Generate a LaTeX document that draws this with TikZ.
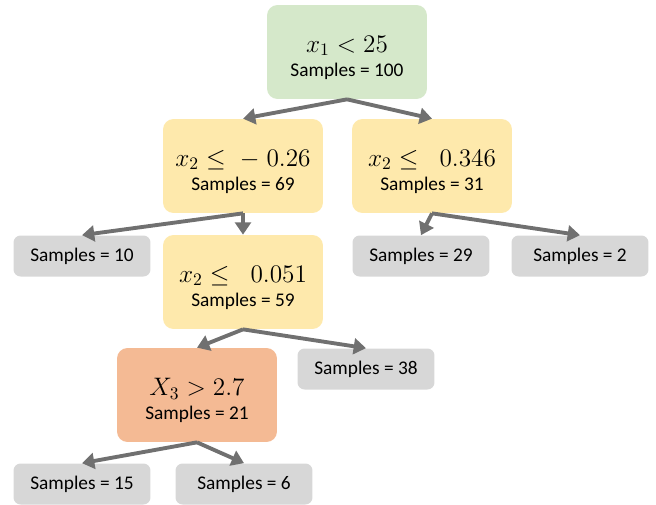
\documentclass[tikz,border=0pt]{standalone}
\usepackage{fontspec}
\setmainfont{Carlito}
\usetikzlibrary{arrows.meta}

\definecolor{splitgreen}{HTML}{D5E8CA}
\definecolor{splityellow}{HTML}{FEE9AC}
\definecolor{splitorange}{HTML}{F4BA94}
\definecolor{leafgray}{HTML}{D7D7D7}
\definecolor{edgegray}{HTML}{707070}

\newcommand{\splittext}[2]{\rule{0pt}{16pt}{\fontsize{14}{14}\selectfont$#1$}\\[1pt]#2}

\tikzset{
  split/.style={rounded corners=6pt, minimum width=3.2cm, minimum height=1.88cm,
    align=center, inner sep=0pt, font=\fontsize{11}{13}\selectfont},
  leaf/.style={rounded corners=4pt, fill=leafgray, minimum width=2.74cm,
    minimum height=0.82cm, inner sep=0pt, font=\fontsize{11}{13}\selectfont},
  edge/.style={draw=edgegray, line width=2.2pt, -{Triangle[length=7pt,width=9pt]}}
}

\begin{document}
\begin{tikzpicture}[x=0.02cm,y=-0.02cm]

\useasboundingbox
(0,0)
rectangle
(656,504);

% Racine
\node[split,fill=splitgreen]
(root)
at (347,52)
{\splittext{x_1 < 25}{Samples = 100}};

% Niveau 1
\node[split,fill=splityellow]
(left)
at (243,166)
{\splittext{x_2 \leq\;-\;0.26}{Samples = 69}};

\node[split,fill=splityellow]
(right)
at (432,166)
{\splittext{x_2 \leq\;\;0.346}{Samples = 31}};

% Niveau 2
\node[leaf]
(s10)
at (82,256)
{Samples = 10};

\node[split,fill=splityellow]
(mid)
at (243,282)
{\splittext{x_2 \leq\;\;0.051}{Samples = 59}};

\node[leaf]
(s29)
at (421,256)
{Samples = 29};

\node[leaf]
(s2)
at (580,256)
{Samples = 2};

% Niveau 3
\node[split,fill=splitorange]
(low)
at (197,395)
{\splittext{X_3 > 2.7}{Samples = 21}};

\node[leaf]
(s38)
at (366,369)
{Samples = 38};

% Niveau 4
\node[leaf]
(s15)
at (82,484)
{Samples = 15};

\node[leaf]
(s6)
at (244,484)
{Samples = 6};

% Branches
\draw[edge]
(root.south)
--
(left.north);

\draw[edge]
(root.south)
--
(right.north);

\draw[edge]
(left.south)
--
(s10.north);

\draw[edge]
(left.south)
--
(mid.north);

\draw[edge]
(right.south)
--
(s29.north);

\draw[edge]
(right.south)
--
(s2.north);

\draw[edge]
(mid.south)
--
(low.north);

\draw[edge]
(mid.south)
--
(s38.north);

\draw[edge]
(low.south)
--
(s15.north);

\draw[edge]
(low.south)
--
(s6.north);

\end{tikzpicture}
\end{document}
